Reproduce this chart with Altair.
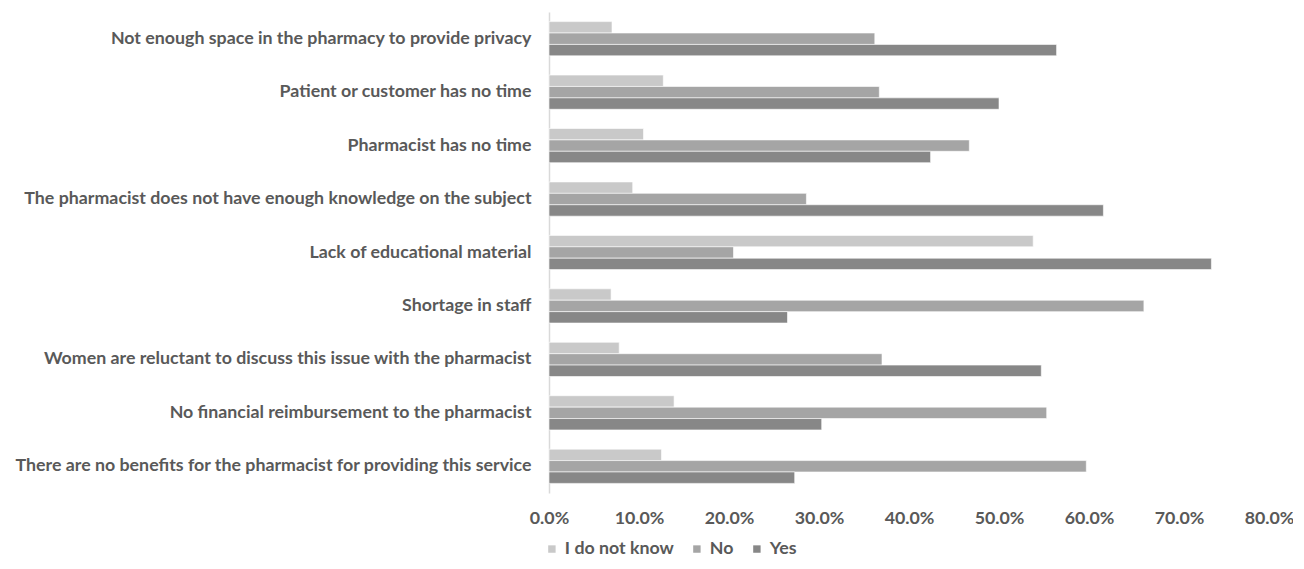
import altair as alt
import pandas as pd

categories = [
    "Not enough space in the pharmacy to provide privacy",
    "Patient or customer has no time",
    "Pharmacist has no time ",
    "The pharmacist does not have enough knowledge on the subject",
    "Lack of educational material",
    "Shortage in staff",
    "Women are reluctant to discuss this issue with the pharmacist",
    "No financial reimbursement to the pharmacist",
    "There are no benefits for the pharmacist for providing this service",
]
series = ["I do not know", "No", "Yes"]
idk = [7.0, 12.7, 10.5, 9.3, 53.8, 6.9, 7.8, 13.9, 12.5]
no = [36.2, 36.7, 46.7, 28.6, 20.5, 66.1, 37.0, 55.3, 59.7]
yes = [56.4, 50.0, 42.4, 61.6, 73.6, 26.5, 54.7, 30.3, 27.3]
tick_values = [0.0, 0.1, 0.2, 0.3, 0.4, 0.5, 0.6, 0.7, 0.8]
colors = ["#c9c9c9", "#a5a5a5", "#878787"]

rows = []
for name, vals in zip(series, [idk, no, yes]):
    for c, v in zip(categories, vals):
        rows.append({"category": c, "series": name, "value": v / 100})
df = pd.DataFrame(rows)

FONT = "Lato"
TXT = "#595959"
FS = 17.8

chart = (
    alt.Chart(df)
    .mark_bar(stroke="white", strokeWidth=0.6)
    .encode(
        y=alt.Y(
            "category:N",
            sort=categories,
            title=None,
            scale=alt.Scale(paddingInner=0.36, paddingOuter=0.18),
            axis=alt.Axis(
                ticks=False,
                domainColor="#d9d9d9",
                domainWidth=1.5,
                labelPadding=18,
                labelLimit=700,
                labelFont=FONT,
                labelFontSize=FS,
                labelFontWeight="bold",
                labelColor=TXT,
            ),
        ),
        yOffset=alt.YOffset("series:N", sort=series),
        x=alt.X(
            "value:Q",
            title=None,
            scale=alt.Scale(domain=[0, 0.8]),
            axis=alt.Axis(
                values=tick_values,
                format=".1%",
                grid=False,
                domain=False,
                ticks=False,
                labelFlush=False,
                labelPadding=16,
                labelFont=FONT,
                labelFontSize=FS,
                labelFontWeight="bold",
                labelColor=TXT,
            ),
        ),
        color=alt.Color(
            "series:N",
            sort=series,
            scale=alt.Scale(domain=series, range=colors),
            legend=alt.Legend(
                title=None,
                orient="none",
                legendX=-6,
                legendY=528,
                padding=0,
                direction="horizontal",
                symbolType="square",
                symbolSize=55,
                symbolStrokeWidth=0,
                labelFont=FONT,
                labelFontSize=FS,
                labelFontWeight="bold",
                labelColor=TXT,
                columnPadding=14,
                labelOffset=4,
            ),
        ),
    )
    .properties(
        width=720,
        height=481,
        autosize=alt.AutoSizeParams(type="none"),
        padding={"left": 541, "top": 4, "right": 24, "bottom": 68},
    )
    .configure_view(stroke=None)
)

chart.save("out.html", embed_options={"renderer": "svg", "actions": False})
